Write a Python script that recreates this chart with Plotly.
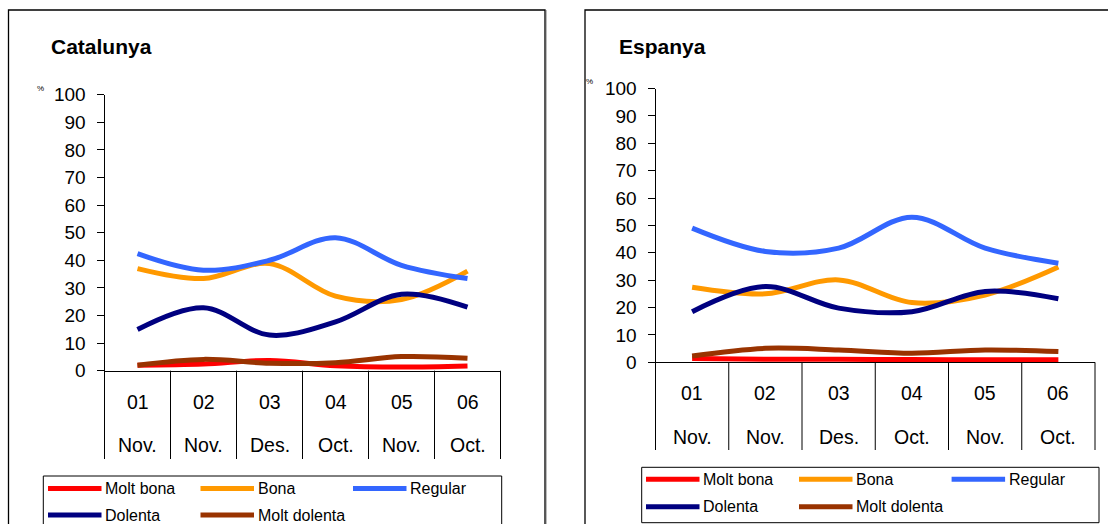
import plotly.graph_objects as go

# ---------------- data ----------------
cat_nums = ["01", "02", "03", "04", "05", "06"]
cat_months = ["Nov.", "Nov.", "Des.", "Oct.", "Nov.", "Oct."]
series_names = ["Molt bona", "Bona", "Regular", "Dolenta", "Molt dolenta"]
series_colors = ["#FF0000", "#FF9900", "#3366FF", "#000080", "#993300"]
y_ticks = [0, 10, 20, 30, 40, 50, 60, 70, 80, 90, 100]

cat_molt_bona = [2.0, 2.4, 3.7, 1.8, 1.3, 1.7]
cat_bona = [37.0, 33.4, 38.8, 27.0, 25.8, 36.1]
cat_regular = [42.4, 36.4, 40.0, 48.2, 38.2, 33.4]
cat_dolenta = [14.9, 22.8, 12.9, 17.7, 27.7, 23.0]
cat_molt_dolenta = [2.0, 4.1, 2.7, 2.9, 5.1, 4.5]

esp_molt_bona = [1.4, 1.1, 1.1, 1.0, 0.9, 0.9]
esp_bona = [27.4, 25.0, 30.1, 21.8, 24.6, 34.8]
esp_regular = [49.0, 40.5, 41.7, 53.0, 41.7, 36.2]
esp_dolenta = [18.5, 27.7, 19.8, 18.5, 25.9, 23.2]
esp_molt_dolenta = [2.3, 5.1, 4.5, 3.3, 4.5, 3.9]

cat_series = [cat_molt_bona, cat_bona, cat_regular, cat_dolenta, cat_molt_dolenta]
esp_series = [esp_molt_bona, esp_bona, esp_regular, esp_dolenta, esp_molt_dolenta]

# ---------------- layout geometry (pixels) ----------------
W, H = 1108, 524
FONT = "Arial, 'Liberation Sans', sans-serif"


def px(x):
    return x / W


def py(y):
    return 1 - y / H


panels = [
    dict(title="Catalunya", series=cat_series, xa="x", ya="y",
         box=(8.5, 10, 545), plot=(104.5, 500.5, 94.7, 370.7),
         title_xy=(49, 47), pct_xy=(40, 88),
         lab1_y=401.5, lab2_y=444.5, div_end=459,
         leg_box=(43.3, 476, 501.7, 540), leg_cols=(48, 200.5, 353), leg_rows=(488.5, 515)),
    dict(title="Espanya", series=esp_series, xa="x2", ya="y2",
         box=(585, 10, 1130), plot=(655.5, 1095, 88.5, 362.3),
         title_xy=(617, 46.5), pct_xy=(589, 81),
         lab1_y=393, lab2_y=436.7, div_end=450,
         leg_box=(641.7, 467.3, 1099, 522.7), leg_cols=(646, 799, 951.6), leg_rows=(479.3, 506.7)),
]

fig = go.Figure()
shapes = []
annotations = []
n = len(cat_nums)
xs = list(range(n))

for p in panels:
    for name, color, vals in zip(series_names, series_colors, p["series"]):
        fig.add_trace(go.Scatter(
            x=xs, y=vals, name=name, mode="lines",
            line=dict(color=color, width=5, shape="spline", smoothing=1.0),
            xaxis=p["xa"], yaxis=p["ya"], showlegend=False, hoverinfo="skip"))

    # chart border box
    bx0, by0, bx1 = p["box"]
    shapes.append(dict(type="rect", xref="paper", yref="paper",
                       x0=px(bx0), x1=px(bx1), y0=py(560), y1=py(by0),
                       line=dict(color="#000000", width=1.3), layer="below"))
    shapes.append(dict(type="line", xref="paper", yref="paper",
                       x0=px(bx1 + 0.8), x1=px(bx1 + 0.8), y0=py(560), y1=py(by0),
                       line=dict(color="#555555", width=1.2), layer="below"))

    # title
    tx, ty = p["title_xy"]
    annotations.append(dict(text="<b>%s</b>" % p["title"], xref="paper", yref="paper",
                            x=px(tx), y=py(ty), xanchor="left", yanchor="middle",
                            showarrow=False, font=dict(family=FONT, size=21, color="#000")))
    # percent sign
    cx, cy = p["pct_xy"]
    annotations.append(dict(text="%", xref="paper", yref="paper",
                            x=px(cx), y=py(cy), xanchor="center", yanchor="middle",
                            showarrow=False, font=dict(family=FONT, size=8, color="#000")))

    # category dividers and two-level labels
    xd = p["xa"] + " domain"
    for i in range(n + 1):
        shapes.append(dict(type="line", xref=xd, yref="paper",
                           x0=i / n, x1=i / n, y0=py(p["plot"][3]), y1=py(p["div_end"]),
                           line=dict(color="#000000", width=1)))
    for i, (a, b) in enumerate(zip(cat_nums, cat_months)):
        annotations.append(dict(text=a, xref=p["xa"], yref="paper", x=i, y=py(p["lab1_y"]),
                                xanchor="center", yanchor="middle", showarrow=False,
                                font=dict(family=FONT, size=19.5, color="#000")))
        annotations.append(dict(text=b, xref=p["xa"], yref="paper", x=i, y=py(p["lab2_y"]),
                                xanchor="center", yanchor="middle", showarrow=False,
                                font=dict(family=FONT, size=19.5, color="#000")))

    # legend
    lx0, ly0, lx1, ly1 = p["leg_box"]
    shapes.append(dict(type="rect", xref="paper", yref="paper",
                       x0=px(lx0), x1=px(lx1), y0=py(ly1), y1=py(ly0),
                       line=dict(color="#000000", width=1)))
    for k, (name, color) in enumerate(zip(series_names, series_colors)):
        col = p["leg_cols"][k % 3]
        row = p["leg_rows"][k // 3]
        shapes.append(dict(type="line", xref="paper", yref="paper",
                           x0=px(col), x1=px(col + 53.5), y0=py(row), y1=py(row),
                           line=dict(color=color, width=5)))
        annotations.append(dict(text=name, xref="paper", yref="paper",
                                x=px(col + 55), y=py(row), xanchor="left", yanchor="middle",
                                showarrow=False, font=dict(family=FONT, size=16, color="#000")))

axis_common_y = dict(range=[0, 100], tickvals=y_ticks, ticks="outside", ticklen=7,
                     tickcolor="#000", tickwidth=1, showline=True, linecolor="#000", linewidth=1,
                     showgrid=False, zeroline=False, tickfont=dict(family=FONT, size=19, color="#000"),
                     ticklabelstandoff=7, fixedrange=True, automargin=False)
axis_common_x = dict(range=[-0.5, n - 0.5], showticklabels=False, ticks="", showline=True,
                     linecolor="#000", linewidth=1, showgrid=False, zeroline=False, fixedrange=True,
                     automargin=False)

L, R = panels
fig.update_layout(
    width=W, height=H, margin=dict(l=0, r=0, t=0, b=0, pad=0, autoexpand=False),
    paper_bgcolor="#FFFFFF", plot_bgcolor="#FFFFFF", showlegend=False,
    font=dict(family=FONT, color="#000"),
    xaxis=dict(domain=[px(L["plot"][0]), px(L["plot"][1])], anchor="y", **axis_common_x),
    yaxis=dict(domain=[py(L["plot"][3]), py(L["plot"][2])], anchor="x", **axis_common_y),
    xaxis2=dict(domain=[px(R["plot"][0]), px(R["plot"][1])], anchor="y2", **axis_common_x),
    yaxis2=dict(domain=[py(R["plot"][3]), py(R["plot"][2])], anchor="x2", **axis_common_y),
    shapes=shapes, annotations=annotations,
)

fig.write_html("out.html", config={"displayModeBar": False},
               post_script="document.body.style.margin='0';document.body.style.overflow='hidden';")
